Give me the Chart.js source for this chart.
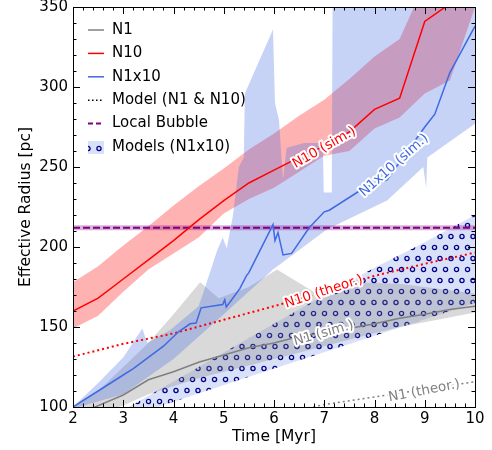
<!DOCTYPE html>
<html>
<head>
<meta charset="utf-8">
<script src="https://cdn.jsdelivr.net/npm/chart.js@4.4.0/dist/chart.umd.min.js"></script>
<style>
    html, body { margin: 0; padding: 0; background: #fff; }
    #wrap { width: 492px; height: 450px; }
</style>
</head>
<body>
<div id="wrap"><canvas id="chart" width="492" height="450"></canvas></div>
<script>
// Simulated radii (pc) against time (Myr)
const timeGrid = [2, 2.5, 3, 3.5, 4, 4.5, 5, 5.5, 6, 6.5, 7, 7.5, 8, 8.5, 9, 9.5, 10];
const n10Radius = [160, 168, 180, 192, 204, 217, 229, 240, 248, 256, 263, 272, 286, 293, 341, 352, 362];
const n10Low = [149, 157, 172, 186, 196, 206, 221, 230, 237, 247, 257, 260, 274, 281, 296, 304, 350];
const n10High = [178, 188, 201, 213, 226, 238, 249, 261, 271, 282, 292, 305, 319, 330, 365, 375, 390];

const n1Time = [2, 2.44, 3, 3.5, 4, 4.5, 5, 5.5, 6, 6.5, 7, 7.5, 8, 8.5, 9, 9.5, 10];
const n1Radius = [94, 100, 107.5, 117, 122, 128, 132.5, 137, 140, 144, 146.5, 149, 152, 155.5, 158, 161, 163];
const n1LowTime = [2, 2.5, 3, 3.5, 4, 4.5, 5, 5.5, 6, 7, 7.6, 8.5, 10];
const n1Low = [90, 96, 101, 108, 113, 118, 122, 126, 130, 138, 143, 150, 159];
const n1HighTime = [2, 2.5, 3, 3.5, 4, 4.53, 4.9, 5.5, 6.06, 7.0, 7.55, 8.5, 10];
const n1High = [100, 110, 125, 140, 158, 178, 168, 175, 186, 168, 178, 177, 171];

const n1x10Time = [2, 2.5, 3, 3.2, 3.5, 3.8, 4.1, 4.33, 4.45, 4.55, 4.98, 5.02, 5.05, 5.18, 5.32, 5.45, 5.5,
    5.98, 6.02, 6.08, 6.18, 6.35, 6.7, 7.0, 7.1, 7.8, 8.25, 9.0, 9.2, 9.5, 10];
const n1x10Radius = [100, 110, 120, 124, 131, 138, 147, 152, 152.5, 162, 164, 167, 162.5, 168, 174, 182, 184,
    214, 204, 209, 195, 196, 212, 222, 223, 237, 242, 275, 283, 309, 338];
const n1x10LowTime = [2, 3, 4, 5, 5.98, 7.05, 8.25, 8.97, 9.03, 9.05, 10];
const n1x10Low = [99, 108, 130, 158, 186, 211, 229, 250, 237, 256, 277];
const n1x10HighTime = [2, 2.5, 3, 3.38, 3.48, 3.93, 4.5, 4.6, 4.87, 4.98, 5.06, 5.18, 5.3, 5.4, 5.42, 5.98,
    6.02, 6.1, 6.18, 6.25, 6.6, 6.97, 6.99, 7.15, 7.17, 8, 9, 10];
const n1x10High = [100, 115, 131, 149, 140, 148, 163, 172, 198, 206, 199, 219, 250, 256, 296, 336,
    290, 279, 242, 262, 265, 265, 234, 234, 380, 400, 420, 440];

// Models
const theorTime = [2, 3, 4, 5, 6, 7, 8, 9, 10];
const n10Theor = [131.5, 139.5, 146, 154.5, 163, 172, 182, 189.5, 196.5];
const n1Theor = [70, 77, 83, 89, 95, 101.5, 106.3, 111, 115.8];
const modelLowTime = [2, 3.5, 5.32, 10];
const modelLow = [70, 98, 117, 165];
const modelHighTime = [2, 3, 4, 5, 6, 7, 8, 9, 10];
const modelHigh = [80, 98, 116, 134, 152, 170, 187, 203, 220];

const bubbleTime = [2, 10];
const bubbleRadius = [212, 212];

const legendLabels = ['N1', 'N10', 'N1x10', 'Model (N1 & N10)', 'Local Bubble', 'Models (N1x10)'];

// Inline labels sitting on the lines
const lineLabels = [
    { text: 'N10 (sim.)', x: 7.0, y: 262, angle: -29.6, color: 'red' },
    { text: 'N1x10 (sim.)', x: 8.39, y: 251, angle: -41.7, color: 'royalblue' },
    { text: 'N10 (theor.)', x: 6.99, y: 172, angle: -18, color: 'red' },
    { text: 'N1 (sim.)', x: 6.99, y: 146, angle: -16, color: 'grey' },
    { text: 'N1 (theor.)', x: 8.99, y: 110, angle: -11, color: 'grey' }
];

const FONT = 'DejaVu Sans';

function pts(xs, ys) {
    return xs.map((x, i) => ({ x: x, y: ys[i] }));
}

// Circle hatch like matplotlib 'o'
function makeCirclePattern(ctx) {
    const c = document.createElement('canvas');
    c.width = 11;
    c.height = 22;
    const g = c.getContext('2d');
    g.fillStyle = 'rgba(65,105,225,0.2)';
    g.fillRect(0, 0, 11, 22);
    g.strokeStyle = '#00008b';
    g.lineWidth = 1.3;
    [[5.5, 5.5], [0, 16.5], [11, 16.5]].forEach(([cx, cy]) => {
        g.beginPath();
        g.arc(cx, cy, 2.1, 0, Math.PI * 2);
        g.stroke();
    });
    return ctx.createPattern(c, 'repeat');
}

const canvas = document.getElementById('chart');
const ctx = canvas.getContext('2d');
const circlePattern = makeCirclePattern(ctx);

function lineSet(label, data, color, width, extra) {
    return Object.assign({
        label: label,
        data: data,
        borderColor: color,
        borderWidth: width,
        pointRadius: 0,
        tension: 0,
        fill: false,
        clip: 0
    }, extra || {});
}

function bandPair(label, low, high, color, order) {
    return [
        lineSet(label + ' low', low, 'transparent', 0, { order: order }),
        lineSet(label + ' high', high, 'transparent', 0, { order: order, fill: '-1', backgroundColor: color })
    ];
}

const datasets = [
    lineSet('N1', pts(n1Time, n1Radius), 'grey', 1.5, { order: 1 }),
    lineSet('N10', pts(timeGrid, n10Radius), 'red', 1.5, { order: 1 }),
    lineSet('N1x10', pts(n1x10Time, n1x10Radius), 'royalblue', 1.5, { order: 1 }),
    lineSet('N10 model', pts(theorTime, n10Theor), 'red', 2, { order: 2, borderDash: [2, 3] }),
    lineSet('N1 model', pts(theorTime, n1Theor), 'grey', 1.5, { order: 2, borderDash: [2, 3] }),
    lineSet('Local Bubble', pts(bubbleTime, bubbleRadius), 'purple', 2, { order: 2, borderDash: [7, 3] }),
    lineSet('Local Bubble halo', pts(bubbleTime, bubbleRadius), 'rgba(128,0,128,0.3)', 5, { order: 3 }),
    ...bandPair('N1x10 range', pts(n1x10LowTime, n1x10Low), pts(n1x10HighTime, n1x10High), 'rgba(65,105,225,0.3)', 6),
    ...bandPair('N10 range', pts(timeGrid, n10Low), pts(timeGrid, n10High), 'rgba(255,0,0,0.3)', 7),
    ...bandPair('N1 range', pts(n1LowTime, n1Low), pts(n1HighTime, n1High), 'rgba(128,128,128,0.3)', 8),
    ...bandPair('Models range', pts(modelLowTime, modelLow), pts(modelHighTime, modelHigh), circlePattern, 9)
];

// Inward ticks on all four sides plus the frame
const framePlugin = {
    id: 'frame',
    afterDatasetsDraw(chart) {
        const c = chart.ctx;
        const { left, right, top, bottom } = chart.chartArea;
        const xs = chart.scales.x;
        const ys = chart.scales.y;
        c.save();
        c.strokeStyle = '#000';
        c.lineWidth = 1;
        for (let v = 2; v <= 10.001; v += 0.2) {
            const px = Math.round(xs.getPixelForValue(v)) + 0.5;
            const major = Math.abs(v - Math.round(v)) < 1e-6;
            const len = major ? 7 : 3.5;
            c.beginPath();
            c.moveTo(px, bottom); c.lineTo(px, bottom - len);
            c.moveTo(px, top); c.lineTo(px, top + len);
            c.stroke();
        }
        for (let v = 100; v <= 350.001; v += 10) {
            const py = Math.round(ys.getPixelForValue(v)) + 0.5;
            const len = v % 50 === 0 ? 7 : 3.5;
            c.beginPath();
            c.moveTo(left, py); c.lineTo(left + len, py);
            c.moveTo(right, py); c.lineTo(right - len, py);
            c.stroke();
        }
        c.strokeRect(Math.round(left) + 0.5, Math.round(top) + 0.5,
            Math.round(right - left), Math.round(bottom - top));
        c.restore();
    }
};

const lineLabelPlugin = {
    id: 'lineLabels',
    afterDatasetsDraw(chart) {
        const c = chart.ctx;
        const xs = chart.scales.x;
        const ys = chart.scales.y;
        c.save();
        c.font = '13.5px "' + FONT + '"';
        c.textAlign = 'center';
        c.textBaseline = 'middle';
        lineLabels.forEach(l => {
            c.save();
            c.translate(xs.getPixelForValue(l.x), ys.getPixelForValue(l.y));
            c.rotate(l.angle * Math.PI / 180);
            c.lineJoin = 'round';
            c.lineWidth = 4;
            c.strokeStyle = '#fff';
            c.strokeText(l.text, 0, 0);
            c.fillStyle = l.color;
            c.fillText(l.text, 0, 0);
            c.restore();
        });
        c.restore();
    }
};

const legendPlugin = {
    id: 'customLegend',
    afterDraw(chart) {
        const c = chart.ctx;
        const x0 = 88, x1 = 104, tx = 112;
        c.save();
        c.font = '15px "' + FONT + '"';
        c.textBaseline = 'middle';
        c.fillStyle = '#000';
        legendLabels.forEach((text, i) => {
            const y = 30 + i * 23.4;
            c.save();
            if (i < 5) {
                const styles = [
                    ['grey', [], 1.5], ['red', [], 1.5], ['royalblue', [], 1.5],
                    ['#000', [1.5, 2.5], 1.5], ['purple', [5, 3], 2]
                ];
                c.strokeStyle = styles[i][0];
                c.setLineDash(styles[i][1]);
                c.lineWidth = styles[i][2];
                c.beginPath();
                c.moveTo(x0, y);
                c.lineTo(x1, y);
                c.stroke();
            } else {
                c.fillStyle = circlePattern;
                c.fillRect(x0, y - 6, x1 - x0, 13);
            }
            c.restore();
            c.fillText(text, tx, y);
        });
        c.restore();
    }
};

new Chart(ctx, {
    type: 'line',
    data: { datasets: datasets },
    options: {
        responsive: false,
        animation: false,
        devicePixelRatio: 1,
        layout: { padding: { top: 7, right: 17, left: 0, bottom: 0 } },
        plugins: {
            legend: { display: false },
            tooltip: { enabled: false }
        },
        scales: {
            x: {
                type: 'linear',
                min: 2,
                max: 10,
                grid: { display: false, drawTicks: false },
                border: { display: false },
                ticks: {
                    stepSize: 1,
                    color: '#000',
                    padding: 3,
                    maxRotation: 0,
                    autoSkip: false,
                    font: { family: FONT, size: 15 }
                },
                title: {
                    display: true,
                    text: 'Time [Myr]',
                    color: '#000',
                    font: { family: FONT, size: 15.5 },
                    padding: { top: 0, bottom: 4 }
                },
                afterFit(scale) {
                    scale.height = 43;
                    scale.paddingLeft = 0;
                    scale.paddingRight = 0;
                }
            },
            y: {
                type: 'linear',
                min: 100,
                max: 350,
                grid: { display: false, drawTicks: false },
                border: { display: false },
                ticks: {
                    stepSize: 50,
                    color: '#000',
                    padding: 5,
                    font: { family: FONT, size: 15 }
                },
                title: {
                    display: true,
                    text: 'Effective Radius [pc]',
                    color: '#000',
                    font: { family: FONT, size: 15.5 },
                    padding: { top: 17, bottom: 0 }
                },
                afterFit(scale) {
                    scale.width = 73;
                    scale.paddingTop = 0;
                    scale.paddingBottom = 0;
                }
            }
        }
    },
    plugins: [framePlugin, lineLabelPlugin, legendPlugin]
});
</script>
</body>
</html>
